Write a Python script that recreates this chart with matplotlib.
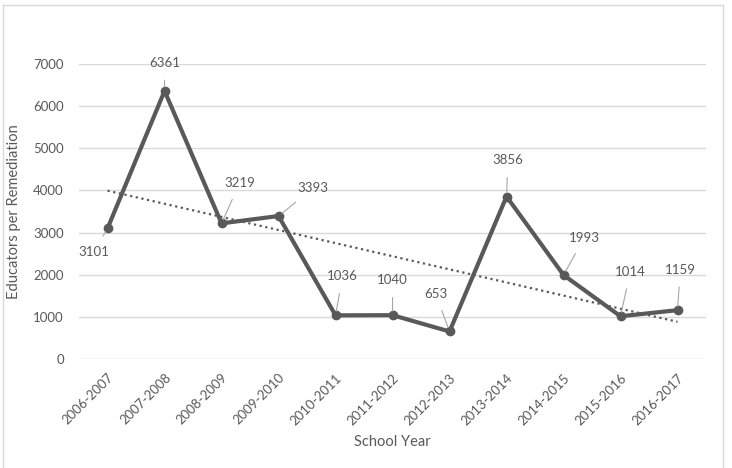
import numpy as np
import matplotlib.pyplot as plt
from matplotlib.lines import Line2D

# School years and educators per remediation
years = ['2006-2007', '2007-2008', '2008-2009', '2009-2010', '2010-2011', '2011-2012',
         '2012-2013', '2013-2014', '2014-2015', '2015-2016', '2016-2017']
educators = [3101, 6361, 3219, 3393, 1036, 1040, 653, 3856, 1993, 1014, 1159]

# data label offsets (points), roughly where Excel placed them
label_offsets = [(-10, -17), (0, 20), (13, 29), (25, 20), (5, 28), (0, 25),
                 (-10, 27), (1, 26), (15, 27), (7, 32), (2, 29)]

plt.rcParams['font.family'] = ['Lato', 'DejaVu Sans']
text_color = '#595959'
line_color = '#595959'

fig = plt.figure(figsize=(7.32, 4.68), dpi=100)
ax = fig.add_axes([0.108, 0.2329, 0.8565, 0.6303])

x = np.arange(len(years))
ax.plot(x, educators, color=line_color, linewidth=3, marker='o', markersize=6,
        markerfacecolor=line_color, markeredgecolor=line_color, zorder=3)

# linear trendline
slope, intercept = np.polyfit(x, educators, 1)
ax.plot(x, slope * x + intercept, color=line_color, linestyle=(0, (1, 1.6)),
        linewidth=1.6, zorder=2)

# data labels with leader lines
for i, (xi, val) in enumerate(zip(x, educators)):
    dx, dy = label_offsets[i]
    ax.annotate(str(val), xy=(xi, val), xytext=(dx, dy), textcoords='offset points',
                ha='center', va='center', fontsize=9.5, color=text_color,
                arrowprops=dict(arrowstyle='-', color='#a6a6a6', linewidth=0.8,
                                shrinkA=6, shrinkB=3),
                zorder=4)

ax.set_xlim(-0.5, len(years) - 0.5)
ax.set_ylim(0, 7000)
ax.set_yticks(range(0, 7001, 1000))
ax.set_xticks(x)
ax.set_xticklabels(years, rotation=45, ha='right', rotation_mode='anchor')
ax.tick_params(axis='both', length=0, labelsize=9.5, colors=text_color)
ax.tick_params(axis='y', pad=11)
ax.tick_params(axis='x', pad=9)
ax.grid(axis='y', color='#d9d9d9', linewidth=1)
ax.set_axisbelow(True)
for s in ax.spines.values():
    s.set_visible(False)

ax.set_xlabel('School Year', fontsize=10.5, color=text_color, labelpad=6)
ax.set_ylabel('Educators per Remediation', fontsize=10.5, color=text_color, labelpad=9)

# chart area border
W, H = 732, 468
for (x0, y0, x1, y1) in [(3, 5, 723, 5), (3, 5, 3, 468), (723, 5, 723, 468)]:
    fig.add_artist(Line2D([x0 / W, x1 / W], [1 - y0 / H, 1 - y1 / H],
                          color='#d9d9d9', linewidth=1, transform=fig.transFigure))

fig.savefig('out.png', dpi=100)
